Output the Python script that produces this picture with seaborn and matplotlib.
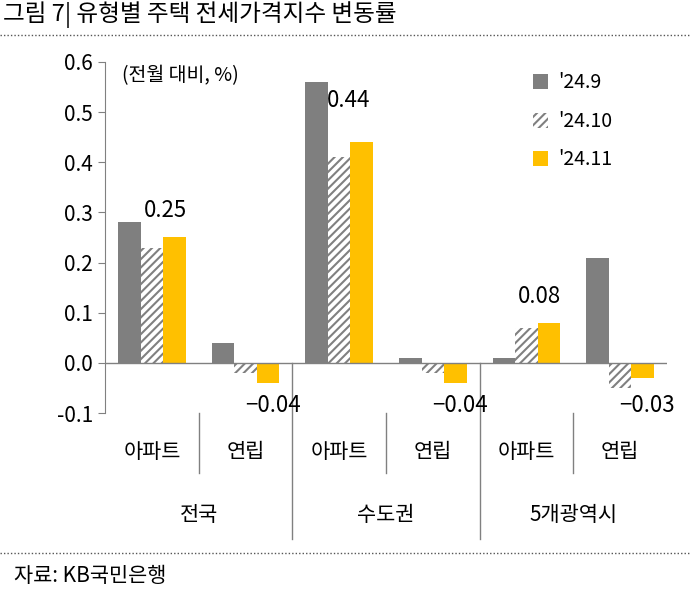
import matplotlib
matplotlib.use("Agg")
import matplotlib.pyplot as plt
import seaborn as sns
import pandas as pd
from matplotlib.patches import Patch

plt.rcParams["font.family"] = ["Noto Sans CJK KR", "Noto Sans CJK JP", "Noto Sans CJK SC", "DejaVu Sans"]
plt.rcParams["axes.unicode_minus"] = False
plt.rcParams["hatch.color"] = "#808080"
plt.rcParams["hatch.linewidth"] = 1.5

slots = ["전국 아파트", "전국 연립", "수도권 아파트", "수도권 연립", "5개광역시 아파트", "5개광역시 연립"]
types = ["아파트", "연립", "아파트", "연립", "아파트", "연립"]
regions = ["전국", "수도권", "5개광역시"]
series = ["'24.9", "'24.10", "'24.11"]
v_sep = [0.28, 0.04, 0.56, 0.01, 0.01, 0.21]
v_oct = [0.23, -0.02, 0.41, -0.02, 0.07, -0.05]
v_nov = [0.25, -0.04, 0.44, -0.04, 0.08, -0.03]
labels = ["0.25", "−0.04", "0.44", "−0.04", "0.08", "−0.03"]

df = pd.DataFrame({"slot": slots * 3,
                   "series": [s for s in series for _ in slots],
                   "value": v_sep + v_oct + v_nov})

fig = plt.figure(figsize=(6.9, 5.91), dpi=100)
ax = fig.add_axes([105/690, 1-413/591, (667-105)/690, (413-62)/591])
colors = ["#7f7f7f", "#ffffff", "#ffc000"]
sns.barplot(data=df, x="slot", y="value", hue="series", palette=colors,
            width=0.72, ax=ax, legend=False, saturation=1, order=slots)
for i, p in enumerate(ax.patches[:18]):
    if 6 <= i < 12:
        p.set_hatch("////")
        p.set_edgecolor("#808080")
        p.set_linewidth(0)
ax.set_xlim(-0.5, 5.5)
ax.set_ylim(-0.1, 0.6)
ax.set_yticks([-0.1, 0, 0.1, 0.2, 0.3, 0.4, 0.5, 0.6])
ax.set_yticklabels(["-0.1", "0.0", "0.1", "0.2", "0.3", "0.4", "0.5", "0.6"], fontsize=15)
ax.set_xticks([])
ax.set_xlabel(""); ax.set_ylabel("")
for s in ["top", "right", "bottom"]:
    ax.spines[s].set_visible(False)
ax.spines["left"].set_color("#808080")
ax.tick_params(axis="y", direction="out", length=5, color="#808080")
ax.axhline(0, color="#808080", lw=1)

for i, (v, t) in enumerate(zip(v_nov, labels)):
    if v >= 0:
        ax.text(i + 0.14 if i != 2 else i + 0.1, v + 0.03 if i != 2 else 0.5,
                t, ha="center", va="bottom", fontsize=16)
    else:
        ax.text(i + 0.29, -0.085, t, ha="center", va="center", fontsize=16)

tr = ax.get_xaxis_transform()
for x in [1.5, 3.5]:
    ax.plot([x, x], [1/7, -0.36], transform=tr, color="#808080", lw=1, clip_on=False)
for x in [0.5, 2.5, 4.5]:
    ax.plot([x, x], [0.0, -0.17], transform=tr, color="#808080", lw=1, clip_on=False)
for i, t in enumerate(types):
    ax.text(i, -0.11, t, transform=tr, ha="center", va="center", fontsize=15)
for j, r in enumerate(regions):
    ax.text(2*j + 0.5, -0.29, r, transform=tr, ha="center", va="center", fontsize=15)

ax.text(0.03, 0.96, "(전월 대비, %)", transform=ax.transAxes, fontsize=14, va="center")
handles = [Patch(facecolor="#7f7f7f"), Patch(facecolor="white", hatch="////", edgecolor="#808080", lw=0),
           Patch(facecolor="#ffc000")]
ax.legend(handles, series, loc="upper left", bbox_to_anchor=(0.73, 1.02), frameon=False,
          fontsize=14, handlelength=0.8, handleheight=0.8, labelspacing=0.9, handletextpad=0.5)

fig.text(0.005, 0.975, "그림 7| 유형별 주택 전세가격지수 변동률", fontsize=17, va="center")
fig.lines.append(plt.Line2D([0, 1], [0.94, 0.94], transform=fig.transFigure, color="#555555", lw=1, ls=(0, (1, 1.5))))
fig.lines.append(plt.Line2D([0, 1], [0.065, 0.065], transform=fig.transFigure, color="#555555", lw=1, ls=(0, (1, 1.5))))
fig.text(0.02, 0.025, "자료: KB국민은행", fontsize=15, va="center")
fig.savefig("out.png", dpi=100)
